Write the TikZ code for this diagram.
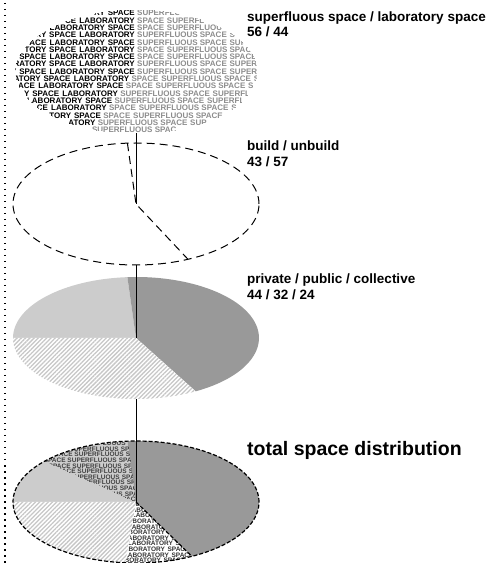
\documentclass[tikz,border=0pt]{standalone}
\usepackage{fontspec}
\setmainfont{Liberation Sans}
\usetikzlibrary{patterns.meta}
% cut words for the text fill of the pies
\newcommand\labsuf[1]{\ifcase#1\or Y\or RY\or ORY\or TORY\or ATORY\or RATORY\or ORATORY\or BORATORY\or ABORATORY\else LABORATORY\fi}
\newcommand\spsuf[1]{\ifcase#1\or E\or CE\or ACE\or PACE\else SPACE\fi}
\newcommand\suppre[1]{\ifcase#1\or S\or SU\or SUP\or SUPE\or SUPER\or SUPERF\or SUPERFL\or SUPERFLU\or SUPERFLUO\or SUPERFLUOU\else SUPERFLUOUS\fi}
\newcommand\sppre[1]{\ifcase#1\or S\or SP\or SPA\or SPAC\else SPACE\fi}

\begin{document}
\begin{tikzpicture}[x=1pt,y=1pt]
\tikzstyle{every node}=[inner sep=0pt];
\tikzstyle{lbl}=[anchor=base west,font=\bfseries\fontsize{13.5}{16}\selectfont];
\tikzstyle{wrd}=[anchor=west,font=\bfseries\fontsize{8}{8}\selectfont];
\tikzstyle{wrde}=[anchor=east,font=\bfseries\fontsize{8}{8}\selectfont];
\tikzstyle{smallwrd}=[anchor=west,font=\bfseries\fontsize{6.5}{7}\selectfont];
\tikzstyle{smallwrde}=[anchor=east,font=\bfseries\fontsize{6.5}{7}\selectfont];
\tikzstyle{dark}=[fill=black!40];
\tikzstyle{light}=[fill=black!20];
\tikzstyle{hatch}=[fill=white,postaction={pattern={Lines[angle=45,distance=3pt,line width=1.3pt]},pattern color=black!22}];
\tikzstyle{axis}=[line width=0.8pt];
\tikzstyle{dsh}=[line width=1pt,dash pattern=on 8pt off 5pt];
\tikzstyle{dshfine}=[line width=1.2pt,dash pattern=on 4pt off 2pt];

\useasboundingbox (0,0) rectangle (489,563);

% left margin
\coordinate (mtop) at (5,560);
\coordinate (mbot) at (5,0);
\draw[line width=1.5pt,dash pattern=on 1.5pt off 4.5pt] (mtop) -- (mbot);

% centres and bottoms of the pies
\coordinate (c1) at (136,491.5);
\coordinate (b1) at (136,429.5);
\coordinate (c2) at (136,359);
\coordinate (b2) at (136,298);
\coordinate (c3) at (136,225);
\coordinate (b3) at (136,164);
\coordinate (c4) at (136,61);

% superfluous / laboratory
\begin{scope}
\clip (c1) ellipse[x radius=121,y radius=62];
\begin{scope}[shift={(c1)}]
\foreach \k in {-8,...,8} {
  \pgfmathsetmacro\yy{\k*7.3}
  \pgfmathsetmacro\bnd{min(0,0.772*\yy)}
  \pgfmathsetmacro\w{121*sqrt(1-(\yy/62)^2)}
  \pgfmathtruncatemacro\odd{mod(\k+20,2)}
  \pgfmathtruncatemacro\ph{mod(floor((\k+20)/2),2)}
  % laboratory, left of the cut
  \foreach \j in {0,1,2} {
    \pgfmathsetmacro\ea{\bnd-1-29.78*(1-\odd)-\j*88.44}
    \pgfmathsetmacro\eb{\bnd-1-58.66*\odd-\j*88.44}
    \pgfmathsetmacro\bud{\ea+\w+4}
    \pgfmathtruncatemacro\na{(5.34<=\bud)+(11.11<=\bud)+(17.34<=\bud)+(22.22<=\bud)+(28<=\bud)+(33.78<=\bud)+(40<=\bud)+(45.78<=\bud)+(51.55<=\bud)+(56.44<=\bud)}
    \pgfmathsetmacro\bud{\eb+\w+4}
    \pgfmathtruncatemacro\nb{(5.34<=\bud)+(11.11<=\bud)+(16.89<=\bud)+(22.22<=\bud)+(27.56<=\bud)}
    \ifnum\na>0 \node[wrde,text=black] (la\k\j) at (\ea,\yy) {\labsuf{\na}};\fi
    \ifnum\nb>0 \node[wrde,text=black] (sa\k\j) at (\eb,\yy) {\spsuf{\nb}};\fi
  }
  % superfluous, right of the cut
  \foreach \j in {0,1,2} {
    \pgfmathsetmacro\sa{\bnd+1+29.78*\ph+\j*92.45}
    \pgfmathsetmacro\sb{\bnd+1+62.67*(1-\ph)+\j*92.45}
    \pgfmathsetmacro\bud{\w+4-\sa}
    \pgfmathtruncatemacro\na{(5.34<=\bud)+(11.11<=\bud)+(16.45<=\bud)+(21.78<=\bud)+(27.56<=\bud)+(32.45<=\bud)+(37.34<=\bud)+(43.11<=\bud)+(49.34<=\bud)+(55.11<=\bud)+(60.45<=\bud)}
    \pgfmathsetmacro\bud{\w+4-\sb}
    \pgfmathtruncatemacro\nb{(5.34<=\bud)+(10.67<=\bud)+(16.45<=\bud)+(22.22<=\bud)+(27.56<=\bud)}
    \ifnum\na>0 \node[wrd,text=black!45] (su\k\j) at (\sa,\yy) {\suppre{\na}};\fi
    \ifnum\nb>0 \node[wrd,text=black!45] (ss\k\j) at (\sb,\yy) {\sppre{\nb}};\fi
  }
}
\end{scope}
\end{scope}

% build / unbuild
\path (c2) ++(94:123 and 61) coordinate (t2);
\path (c2) ++(-65:123 and 61) coordinate (r2);
\draw[dsh] (c2) ellipse[x radius=123,y radius=61];
\draw[dsh] (t2) -- (c2) -- (r2);

% private / public / collective
\fill[light] (c3) -- ++(180:123 and 61) arc[start angle=180,end angle=94,x radius=123,y radius=61] -- cycle;
\fill[dark] (c3) -- ++(94:123 and 61) arc[start angle=94,end angle=-61,x radius=123,y radius=61] -- cycle;
\path[hatch] (c3) -- ++(-61:123 and 61) arc[start angle=-61,end angle=-180,x radius=123,y radius=61] -- cycle;

% total
\fill[light] (c4) -- ++(180:123 and 61) arc[start angle=180,end angle=94,x radius=123,y radius=61] -- cycle;
\fill[dark] (c4) -- ++(94:123 and 61) arc[start angle=94,end angle=-63,x radius=123,y radius=61] -- cycle;
\path[hatch] (c4) -- ++(-95:123 and 61) arc[start angle=-95,end angle=-180,x radius=123,y radius=61] -- cycle;
\begin{scope}
\clip (c4) -- ++(94:123 and 61) arc[start angle=94,end angle=138,x radius=123,y radius=61] -- cycle;
\begin{scope}[shift={(c4)}]
\foreach \k in {0,...,10} {
  \pgfmathsetmacro\yy{2.5+\k*5.6}
  \pgfmathsetmacro\xl{max(-2.22*\yy,-123*sqrt(max(0,1-(\yy/61)^2)))}
  \pgfmathsetmacro\xe{4+mod(\k*7,12)}
  \foreach \j in {0,1,2} {
    \pgfmathsetmacro\xb{\xe-\j*75.1}
    \pgfmathtruncatemacro\oka{\xb>\xl}
    \pgfmathtruncatemacro\okb{\xb-24.2>\xl}
    \ifnum\oka=1 \node[smallwrde,text=black!75] (tss\k\j) at (\xb,\yy) {SPACE};\fi
    \ifnum\okb=1 \node[smallwrde,text=black!75] (tsu\k\j) at (\xb-24.2,\yy) {SUPERFLUOUS};\fi
  }
}
\end{scope}
\end{scope}
\begin{scope}
\clip (c4) -- ++(-63:123 and 61) arc[start angle=-63,end angle=-95,x radius=123,y radius=61] -- cycle;
\begin{scope}[shift={(c4)}]
\foreach \k in {0,...,10} {
  \pgfmathsetmacro\yy{-2.5-\k*5.6}
  \pgfmathsetmacro\xr{min(-1.03*\yy,123*sqrt(max(0,1-(\yy/61)^2)))}
  \pgfmathsetmacro\xs{0.176*\yy-mod(\k*7,12)}
  \foreach \j in {0,1} {
    \pgfmathsetmacro\xa{\xs+\j*71.9}
    \pgfmathtruncatemacro\oka{\xa<\xr}
    \pgfmathtruncatemacro\okb{\xa+47.7<\xr}
    \ifnum\oka=1 \node[smallwrd,text=black!80] (tla\k\j) at (\xa,\yy) {LABORATORY};\fi
    \ifnum\okb=1 \node[smallwrd,text=black!80] (tsa\k\j) at (\xa+47.7,\yy) {SPACE};\fi
  }
}
\end{scope}
\end{scope}
\path (c4) ++(-63:123 and 61) coordinate (r4);
\draw[dshfine] (c4) ellipse[x radius=123,y radius=61];
\draw[dshfine] (c4) -- (r4);

% axis
\draw[axis] (b1) -- (c2);
\draw[axis] (b2) -- (c3);
\draw[axis] (b3) -- (c4);

% labels
\node[lbl] (supl) at (247,541) {superfluous space / laboratory space};
\node[lbl] (supval) at (247,526) {56 / 44};
\node[lbl] (bld) at (247,412) {build / unbuild};
\node[lbl] (bldval) at (247,396) {43 / 57};
\node[lbl] (prv) at (247,279) {private / public / collective};
\node[lbl] (prvval) at (247,263) {44 / 32 / 24};
\node[lbl,font=\bfseries\fontsize{19.5}{22}\selectfont] (tot) at (247,107) {total space distribution};
\end{tikzpicture}
\end{document}
